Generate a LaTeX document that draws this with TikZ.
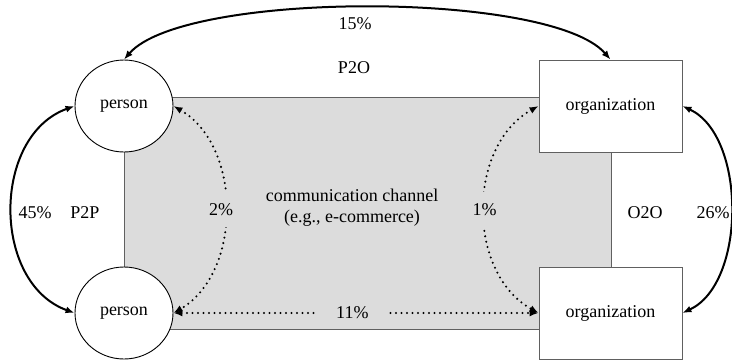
\documentclass[tikz,border=0pt]{standalone}
\usepackage{fontspec}
\setmainfont{Liberation Serif}
\usetikzlibrary{arrows.meta,shapes.geometric}

\definecolor{chgrey}{HTML}{DCDCDC}
\definecolor{edgegrey}{HTML}{606060}

\tikzset{
  every node/.style={font=\fontsize{18}{21}\selectfont},
  personnode/.style={ellipse, draw=black, line width=0.9pt, fill=white,
    minimum width=98pt, minimum height=92pt, inner sep=0pt},
  orgnode/.style={rectangle, draw=edgegrey, line width=0.9pt, fill=white,
    minimum width=143pt, minimum height=92pt, inner sep=0pt},
  channel/.style={rectangle, draw=edgegrey, line width=0.9pt, fill=chgrey,
    minimum width=487pt, minimum height=232pt, inner sep=0pt},
  flow/.style={line width=2pt, {Latex[length=9pt,width=7pt]}-{Latex[length=9pt,width=7pt]}},
  weakflow/.style={line width=2.3pt, line cap=round, dash pattern=on 0pt off 5.5pt,
    {Latex[length=9pt,width=7pt]}-{Latex[length=9pt,width=7pt]}},
  gap/.style={fill=chgrey, inner xsep=4pt, inner ysep=11pt},
  hgap/.style={fill=chgrey, inner xsep=19pt, inner ysep=4pt}
}

\begin{document}
\begin{tikzpicture}[x=1pt, y=-1pt]
  \useasboundingbox (0,0) rectangle (732,360);

  % shared channel between the four parties
  \node[channel] (chan) at (367.5,213) {};
  \node[align=center] (chanlabel) at (352,208) {communication channel\\(e.g., e-commerce)};

  % parties
  \node[personnode] (p1) at (124,106) {person};
  \node[personnode] (p2) at (124,313) {person};
  \node[orgnode] (o1) at (610.5,106) {organization};
  \node[orgnode] (o2) at (610.5,313) {organization};

  % direct communication
  \draw[flow] (p1.north) .. controls +(60,-69) and +(-60,-69) .. (o1.north);
  \draw[flow] (p1.west) .. controls +(-83,30) and +(-83,-30) .. (p2.west);
  \draw[flow] (o1.east) .. controls +(64,30) and +(64,-30) .. (o2.east);

  % communication through the channel
  \draw[weakflow] (p1.east) .. controls +(69,40) and +(69,-40) .. (p2.east)
    node[gap, pos=0.5, xshift=-4pt] (l2) {2\%};
  \draw[weakflow] (o1.west) .. controls +(-72,40) and +(-72,-40) .. (o2.west)
    node[gap, pos=0.5] (l1) {1\%};
  \draw[weakflow] (p2.east) -- (o2.west)
    node[hgap, pos=0.49] (l11) {11\%};

  % percentages and relation labels
  \node (l15) at (355,24) {15\%};
  \node (p2o) at (354,68) {P2O};
  \node (l45) at (35,213) {45\%};
  \node (p2p) at (85,213) {P2P};
  \node (o2o) at (645,213) {O2O};
  \node (l26) at (713,213) {26\%};
\end{tikzpicture}
\end{document}
